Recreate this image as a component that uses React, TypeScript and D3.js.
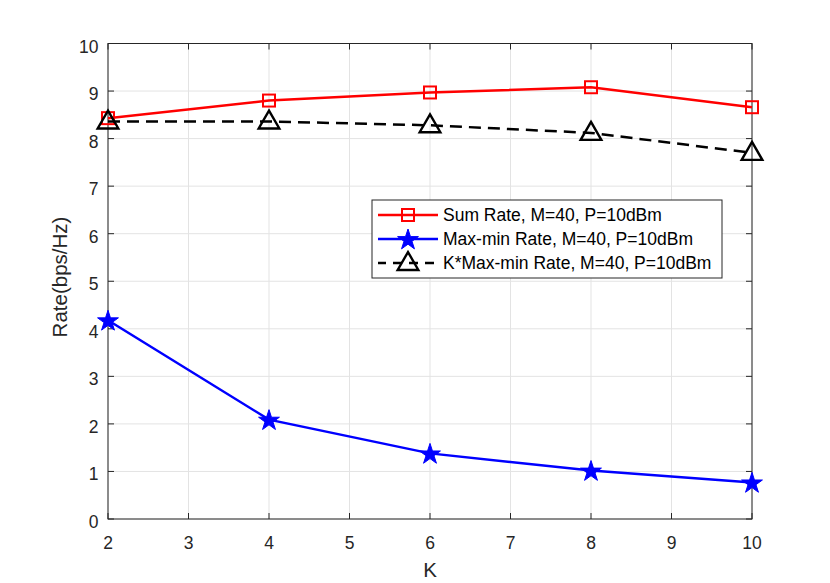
import React, { useEffect, useRef } from 'react';
import * as d3 from 'd3';

const kValues = [2, 4, 6, 8, 10];
const sumRate = [8.43, 8.8, 8.97, 9.08, 8.66];
const maxMinRate = [4.18, 2.09, 1.38, 1.02, 0.77];
const kMaxMinRate = [8.36, 8.36, 8.28, 8.12, 7.7];
const xTicks = [2, 3, 4, 5, 6, 7, 8, 9, 10];
const yTicks = [0, 1, 2, 3, 4, 5, 6, 7, 8, 9, 10];
const legendLabels = [
  'Sum Rate, M=40, P=10dBm',
  'Max-min Rate, M=40, P=10dBm',
  'K*Max-min Rate, M=40, P=10dBm',
];

const FONT = '"Liberation Sans", Arial, Helvetica, sans-serif';
const AXIS = '#262626';

export default function App() {
  const svgRef = useRef<SVGSVGElement>(null);

  useEffect(() => {
    if (!svgRef.current) return;
    const svg = d3.select(svgRef.current);
    svg.selectAll('*').remove();

    const margin = { top: 43.5, right: 78, bottom: 64, left: 108 };
    const width = 830;
    const height = 583;

    const x = d3.scaleLinear().domain([2, 10]).range([margin.left, width - margin.right]);
    const y = d3.scaleLinear().domain([0, 10]).range([height - margin.bottom, margin.top]);

    svg.append('rect').attr('width', width).attr('height', height).attr('fill', '#fff');

    // grid
    const grid = svg.append('g').attr('stroke', '#e3e3e3').attr('stroke-width', 1);
    xTicks.forEach(t => {
      grid.append('line').attr('x1', x(t)).attr('x2', x(t)).attr('y1', y(0)).attr('y2', y(10));
    });
    yTicks.forEach(t => {
      grid.append('line').attr('x1', x(2)).attr('x2', x(10)).attr('y1', y(t)).attr('y2', y(t));
    });

    // frame
    svg.append('rect')
      .attr('x', x(2)).attr('y', y(10))
      .attr('width', x(10) - x(2)).attr('height', y(0) - y(10))
      .attr('fill', 'none').attr('stroke', AXIS).attr('stroke-width', 1);

    // ticks
    const ticks = svg.append('g').attr('stroke', AXIS).attr('stroke-width', 1);
    xTicks.forEach(t => {
      ticks.append('line').attr('x1', x(t)).attr('x2', x(t)).attr('y1', y(0)).attr('y2', y(0) - 6);
      ticks.append('line').attr('x1', x(t)).attr('x2', x(t)).attr('y1', y(10)).attr('y2', y(10) + 6);
    });
    yTicks.forEach(t => {
      ticks.append('line').attr('x1', x(2)).attr('x2', x(2) + 6).attr('y1', y(t)).attr('y2', y(t));
      ticks.append('line').attr('x1', x(10)).attr('x2', x(10) - 6).attr('y1', y(t)).attr('y2', y(t));
    });

    const labels = svg.append('g').attr('font-family', FONT).attr('font-size', 17.5).attr('fill', AXIS);
    xTicks.forEach(t => {
      labels.append('text').attr('x', x(t)).attr('y', y(0) + 30)
        .attr('text-anchor', 'middle').text(t);
    });
    yTicks.forEach(t => {
      labels.append('text').attr('x', x(2) - 9.5).attr('y', y(t) + 9)
        .attr('text-anchor', 'end').text(t);
    });

    svg.append('text').attr('x', (x(2) + x(10)) / 2).attr('y', 576.5)
      .attr('text-anchor', 'middle').attr('font-family', FONT).attr('font-size', 20.5)
      .attr('fill', AXIS).text('K');
    svg.append('text')
      .attr('transform', `translate(66.5,277) rotate(-90)`)
      .attr('text-anchor', 'middle').attr('font-family', FONT).attr('font-size', 20.5)
      .attr('fill', AXIS).text('Rate(bps/Hz)');

    const line = d3.line<number>().x((_, i) => x(kValues[i])).y(d => y(d));
    const star = d3.symbol().type(d3.symbolStar).size(135);
    const tri = d3.symbol().type(d3.symbolTriangle).size(185);

    const drawSquare = (g: any, cx: number, cy: number) =>
      g.append('rect').attr('x', cx - 6).attr('y', cy - 6).attr('width', 12).attr('height', 12)
        .attr('fill', 'none').attr('stroke', '#ff0000').attr('stroke-width', 2);
    const drawStar = (g: any, cx: number, cy: number) =>
      g.append('path').attr('d', star()).attr('transform', `translate(${cx},${cy + 1})`)
        .attr('fill', '#0000ff').attr('stroke', '#0000ff').attr('stroke-width', 1);
    const drawTri = (g: any, cx: number, cy: number) =>
      g.append('path').attr('d', tri()).attr('transform', `translate(${cx},${cy + 1})`)
        .attr('fill', 'none').attr('stroke', '#000').attr('stroke-width', 2.4);

    // series
    const s1 = svg.append('g');
    s1.append('path').attr('d', line(sumRate)).attr('fill', 'none')
      .attr('stroke', '#ff0000').attr('stroke-width', 2.5);
    const s3 = svg.append('g');
    s3.append('path').attr('d', line(kMaxMinRate)).attr('fill', 'none')
      .attr('stroke', '#000').attr('stroke-width', 2.5).attr('stroke-dasharray', '12,7');
    const s2 = svg.append('g');
    s2.append('path').attr('d', line(maxMinRate)).attr('fill', 'none')
      .attr('stroke', '#0000ff').attr('stroke-width', 2.5);

    sumRate.forEach((d, i) => drawSquare(s1, x(kValues[i]), y(d)));
    maxMinRate.forEach((d, i) => drawStar(s2, x(kValues[i]), y(d)));
    kMaxMinRate.forEach((d, i) => drawTri(s3, x(kValues[i]), y(d)));

    // legend
    const lg = svg.append('g').attr('transform', 'translate(372,200)');
    lg.append('rect').attr('width', 350).attr('height', 78)
      .attr('fill', '#fff').attr('stroke', AXIS).attr('stroke-width', 1);
    const rowY = [15, 39, 63];
    const colors = ['#ff0000', '#0000ff', '#000'];
    rowY.forEach((ry, i) => {
      const l = lg.append('line').attr('x1', 6).attr('x2', 66).attr('y1', ry).attr('y2', ry)
        .attr('stroke', colors[i]).attr('stroke-width', 2.5);
      if (i === 2) l.attr('stroke-dasharray', '9,7').attr('stroke-dashoffset', 1);
      if (i === 0) drawSquare(lg, 36, ry);
      if (i === 1) drawStar(lg, 36, ry);
      if (i === 2) drawTri(lg, 36, ry);
      lg.append('text').attr('x', 71).attr('y', ry + 6)
        .attr('font-family', FONT).attr('font-size', 17.5).attr('fill', '#000')
        .text(legendLabels[i]);
    });
  }, []);

  return (
    <svg
      ref={svgRef}
      width={830}
      height={583}
      style={{ position: 'absolute', left: 0, top: 0, display: 'block' }}
    />
  );
}
